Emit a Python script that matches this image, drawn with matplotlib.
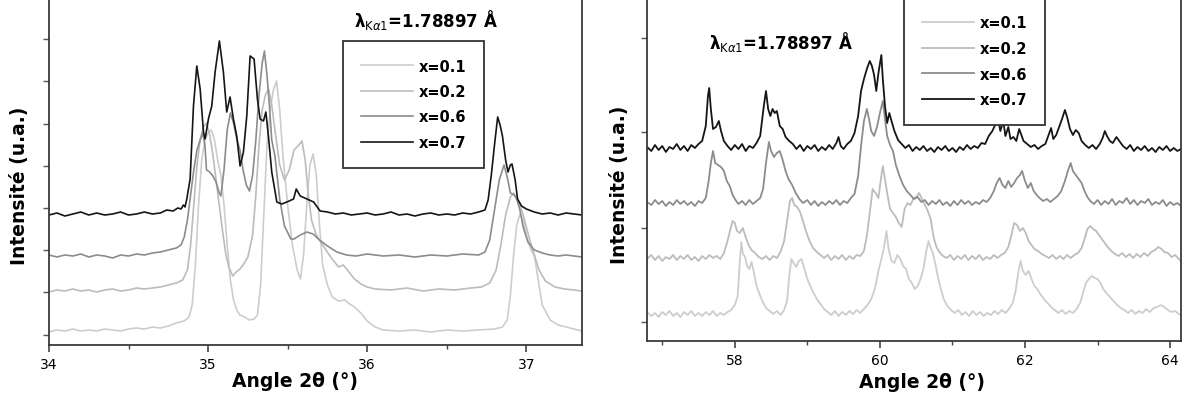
#%%
import numpy as np
import matplotlib.pyplot as plt

#%%
# values (angle in degrees, intensity in a.u. incl. stacking offset)
labels = ['x=0.1', 'x=0.2', 'x=0.6', 'x=0.7']
colors = ['#cdcdcd', '#bcbcbc', '#8c8c8c', '#151515']
lambda_text = r'λ$_{\mathrm{K}\alpha\mathrm{1}}$=1.78897 Å'

left_ticks_y = [10, 53, 95, 137, 179, 221, 264, 306]
right_ticks_y = [19, 113, 209, 303]

# left panel 34 - 37.35
l01_a = [34.00, 34.05, 34.10, 34.15, 34.20, 34.25, 34.30, 34.35, 34.40, 34.45, 34.50, 34.55, 34.60, 34.65, 34.70, 34.75, 34.80, 34.85, 34.88, 34.90, 34.92, 34.94, 34.96, 34.98, 35.00, 35.02, 35.04, 35.06, 35.08, 35.10, 35.12, 35.14, 35.16, 35.18, 35.20, 35.23, 35.26, 35.29, 35.31, 35.33, 35.35, 35.37, 35.39, 35.41, 35.43, 35.45, 35.47, 35.50, 35.53, 35.56, 35.58, 35.60, 35.62, 35.64, 35.66, 35.68, 35.70, 35.72, 35.75, 35.78, 35.82, 35.86, 35.88, 35.92, 35.96, 36.00, 36.05, 36.10, 36.20, 36.30, 36.40, 36.50, 36.60, 36.70, 36.80, 36.85, 36.88, 36.90, 36.92, 36.94, 36.96, 36.98, 37.00, 37.03, 37.05, 37.07, 37.10, 37.15, 37.20, 37.25, 37.30, 37.35]
l01_i = [13, 15, 14, 16, 14, 15, 14, 16, 15, 14, 16, 17, 16, 18, 17, 19, 22, 24, 28, 40, 80, 140, 185, 205, 212, 215, 205, 185, 170, 140, 100, 65, 45, 35, 30, 28, 25, 26, 30, 60, 130, 200, 235, 255, 264, 235, 190, 140, 100, 75, 66, 90, 140, 180, 191, 170, 120, 80, 60, 48, 44, 45, 42, 38, 32, 24, 18, 15, 14, 15, 13, 15, 14, 15, 16, 18, 25, 50, 90, 120, 131, 125, 110, 95, 90, 70, 40, 25, 20, 18, 16, 14]

l02_a = [34.00, 34.05, 34.10, 34.15, 34.20, 34.25, 34.30, 34.35, 34.40, 34.45, 34.50, 34.55, 34.60, 34.65, 34.70, 34.75, 34.80, 34.84, 34.87, 34.89, 34.91, 34.93, 34.95, 34.97, 34.99, 35.01, 35.03, 35.05, 35.07, 35.09, 35.11, 35.13, 35.155, 35.17, 35.20, 35.22, 35.25, 35.28, 35.30, 35.32, 35.34, 35.36, 35.38, 35.40, 35.42, 35.45, 35.48, 35.51, 35.54, 35.57, 35.59, 35.61, 35.63, 35.65, 35.68, 35.72, 35.77, 35.82, 35.85, 35.88, 35.92, 35.96, 36.00, 36.05, 36.15, 36.25, 36.35, 36.45, 36.55, 36.65, 36.72, 36.77, 36.81, 36.84, 36.87, 36.90, 36.92, 36.94, 36.96, 36.98, 37.01, 37.04, 37.08, 37.12, 37.18, 37.24, 37.30, 37.35]
l02_i = [53, 55, 54, 56, 54, 55, 53, 55, 56, 54, 55, 57, 56, 57, 58, 60, 62, 65, 75, 100, 140, 180, 205, 218, 222, 210, 190, 165, 140, 115, 92, 78, 69, 72, 76, 80, 88, 110, 150, 200, 235, 250, 256, 240, 215, 180, 165, 175, 195, 200, 204, 185, 150, 125, 110, 100, 88, 78, 80, 74, 66, 61, 58, 56, 55, 57, 54, 56, 55, 57, 58, 62, 75, 100, 130, 148, 152, 146, 140, 130, 112, 95, 75, 64, 58, 56, 55, 54]

l06_a = [34.00, 34.05, 34.10, 34.15, 34.20, 34.25, 34.30, 34.35, 34.40, 34.45, 34.50, 34.55, 34.60, 34.65, 34.70, 34.75, 34.80, 34.83, 34.85, 34.87, 34.89, 34.91, 34.93, 34.95, 34.965, 34.98, 34.99, 35.01, 35.03, 35.05, 35.07, 35.08, 35.10, 35.12, 35.14, 35.16, 35.18, 35.20, 35.22, 35.24, 35.26, 35.28, 35.30, 35.32, 35.34, 35.354, 35.37, 35.385, 35.40, 35.42, 35.45, 35.48, 35.52, 35.54, 35.58, 35.62, 35.66, 35.70, 35.75, 35.81, 35.87, 35.93, 36.00, 36.10, 36.20, 36.30, 36.40, 36.50, 36.60, 36.70, 36.74, 36.77, 36.80, 36.83, 36.86, 36.88, 36.90, 36.925, 36.94, 36.96, 36.98, 37.01, 37.05, 37.10, 37.15, 37.20, 37.25, 37.30, 37.35]
l06_i = [90, 88, 90, 89, 91, 88, 90, 89, 87, 90, 89, 91, 90, 92, 93, 95, 97, 100, 108, 125, 150, 175, 195, 205, 212, 200, 175, 173, 169, 163, 152, 149, 175, 215, 232, 222, 206, 195, 175, 160, 154, 170, 205, 250, 282, 294, 270, 240, 205, 189, 146, 119, 106, 106, 110, 113, 111, 105, 99, 93, 90, 89, 91, 89, 90, 88, 90, 89, 91, 90, 93, 105, 135, 165, 180, 168, 152, 150, 146, 135, 118, 103, 95, 92, 90, 89, 90, 89, 88]

l07_a = [34.00, 34.05, 34.10, 34.15, 34.20, 34.25, 34.30, 34.35, 34.40, 34.45, 34.50, 34.55, 34.60, 34.65, 34.70, 34.74, 34.78, 34.81, 34.83, 34.845, 34.855, 34.866, 34.887, 34.908, 34.929, 34.950, 34.971, 34.981, 35.002, 35.023, 35.044, 35.071, 35.096, 35.117, 35.138, 35.159, 35.180, 35.201, 35.222, 35.243, 35.264, 35.289, 35.310, 35.327, 35.348, 35.363, 35.379, 35.400, 35.432, 35.463, 35.495, 35.537, 35.554, 35.579, 35.621, 35.663, 35.704, 35.75, 35.80, 35.85, 35.90, 35.95, 36.00, 36.05, 36.10, 36.15, 36.20, 36.25, 36.30, 36.35, 36.40, 36.45, 36.50, 36.55, 36.60, 36.65, 36.70, 36.74, 36.76, 36.78, 36.80, 36.82, 36.835, 36.85, 36.87, 36.885, 36.90, 36.91, 36.93, 36.945, 36.97, 37.00, 37.05, 37.10, 37.15, 37.20, 37.25, 37.30, 37.35]
l07_i = [130, 132, 129, 131, 133, 130, 132, 130, 131, 133, 130, 131, 133, 131, 132, 135, 134, 137, 136, 140, 138, 146, 166, 239, 279, 256, 213, 206, 226, 239, 273, 304, 273, 233, 248, 226, 209, 179, 193, 229, 289, 286, 246, 226, 224, 233, 209, 173, 143, 141, 143, 146, 156, 149, 146, 143, 134, 133, 131, 132, 130, 131, 132, 130, 131, 133, 130, 131, 129, 131, 132, 130, 131, 130, 132, 131, 133, 135, 145, 170, 200, 228, 220, 209, 185, 173, 180, 181, 165, 146, 139, 136, 133, 131, 132, 130, 132, 131, 130]

# right panel 56.8 - 64.15
r07_a = [56.79, 56.85, 56.90, 56.95, 57.00, 57.05, 57.10, 57.15, 57.20, 57.25, 57.30, 57.35, 57.40, 57.45, 57.50, 57.55, 57.60, 57.63, 57.647, 57.67, 57.70, 57.74, 57.78, 57.81, 57.85, 57.90, 57.95, 58.00, 58.05, 58.10, 58.15, 58.20, 58.25, 58.30, 58.35, 58.40, 58.43, 58.46, 58.49, 58.52, 58.55, 58.58, 58.62, 58.66, 58.70, 58.75, 58.80, 58.85, 58.90, 58.95, 59.00, 59.05, 59.10, 59.15, 59.20, 59.25, 59.30, 59.35, 59.40, 59.43, 59.46, 59.50, 59.55, 59.60, 59.65, 59.70, 59.74, 59.78, 59.82, 59.86, 59.89, 59.92, 59.95, 59.98, 60.02, 60.04, 60.07, 60.10, 60.13, 60.16, 60.20, 60.25, 60.30, 60.35, 60.40, 60.45, 60.50, 60.55, 60.60, 60.65, 60.70, 60.75, 60.80, 60.85, 60.90, 60.95, 61.00, 61.05, 61.10, 61.15, 61.20, 61.25, 61.30, 61.35, 61.40, 61.45, 61.50, 61.55, 61.60, 61.63, 61.66, 61.70, 61.73, 61.77, 61.80, 61.84, 61.88, 61.92, 61.95, 61.98, 62.03, 62.08, 62.13, 62.18, 62.23, 62.28, 62.32, 62.36, 62.39, 62.43, 62.47, 62.51, 62.55, 62.58, 62.62, 62.66, 62.70, 62.74, 62.78, 62.83, 62.88, 62.93, 62.98, 63.03, 63.07, 63.10, 63.13, 63.17, 63.21, 63.26, 63.30, 63.35, 63.40, 63.45, 63.50, 63.55, 63.60, 63.65, 63.70, 63.75, 63.80, 63.85, 63.90, 63.95, 64.00, 64.05, 64.10, 64.15]
r07_i = [194, 190, 196, 191, 195, 189, 194, 192, 197, 191, 195, 190, 196, 193, 197, 200, 215, 245, 253, 232, 212, 214, 220, 210, 200, 195, 191, 196, 192, 197, 190, 195, 193, 198, 205, 235, 250, 232, 225, 232, 228, 230, 215, 212, 204, 200, 197, 192, 196, 190, 195, 192, 196, 190, 194, 191, 196, 192, 198, 204, 195, 192, 197, 200, 208, 225, 250, 262, 272, 280, 275, 266, 250, 268, 286, 262, 235, 218, 228, 220, 210, 201, 197, 193, 196, 190, 194, 191, 195, 190, 193, 189, 194, 191, 195, 190, 193, 189, 194, 191, 196, 192, 195, 193, 198, 197, 205, 210, 218, 222, 210, 220, 205, 214, 202, 204, 200, 212, 206, 200, 197, 194, 196, 192, 195, 197, 205, 213, 202, 206, 214, 222, 231, 224, 212, 206, 211, 208, 200, 196, 193, 196, 192, 197, 203, 210, 205, 200, 198, 204, 200, 195, 192, 196, 190, 194, 191, 195, 190, 193, 189, 194, 191, 195, 190, 193, 190, 192]

r06_a = [56.79, 56.85, 56.90, 56.95, 57.00, 57.05, 57.10, 57.15, 57.20, 57.25, 57.30, 57.35, 57.40, 57.45, 57.50, 57.55, 57.60, 57.64, 57.67, 57.70, 57.73, 57.77, 57.81, 57.85, 57.89, 57.93, 57.97, 58.01, 58.05, 58.10, 58.15, 58.20, 58.25, 58.30, 58.35, 58.39, 58.43, 58.47, 58.50, 58.54, 58.58, 58.62, 58.66, 58.70, 58.74, 58.79, 58.84, 58.89, 58.94, 59.00, 59.05, 59.10, 59.15, 59.20, 59.25, 59.30, 59.35, 59.40, 59.45, 59.50, 59.55, 59.60, 59.65, 59.70, 59.74, 59.78, 59.82, 59.85, 59.88, 59.92, 59.96, 60.00, 60.04, 60.07, 60.10, 60.14, 60.18, 60.22, 60.27, 60.32, 60.37, 60.42, 60.47, 60.52, 60.57, 60.62, 60.67, 60.72, 60.77, 60.82, 60.87, 60.92, 60.97, 61.02, 61.07, 61.12, 61.17, 61.22, 61.27, 61.32, 61.37, 61.42, 61.47, 61.52, 61.57, 61.61, 61.65, 61.69, 61.73, 61.77, 61.81, 61.85, 61.89, 61.93, 61.96, 62.00, 62.04, 62.08, 62.12, 62.16, 62.20, 62.25, 62.30, 62.35, 62.40, 62.45, 62.50, 62.55, 62.59, 62.63, 62.66, 62.70, 62.74, 62.78, 62.82, 62.86, 62.90, 62.95, 63.00, 63.05, 63.10, 63.15, 63.20, 63.25, 63.30, 63.35, 63.40, 63.45, 63.50, 63.55, 63.60, 63.65, 63.70, 63.75, 63.80, 63.85, 63.90, 63.95, 64.00, 64.05, 64.10, 64.15]
r06_i = [139, 136, 141, 137, 140, 135, 139, 136, 141, 137, 140, 136, 139, 135, 140, 138, 143, 160, 178, 190, 178, 176, 174, 170, 160, 155, 146, 141, 137, 140, 136, 141, 137, 140, 143, 152, 178, 199, 190, 184, 188, 190, 181, 170, 162, 156, 148, 142, 138, 141, 136, 140, 135, 139, 136, 140, 137, 141, 136, 140, 138, 143, 147, 165, 195, 220, 232, 222, 210, 205, 214, 228, 240, 222, 205, 196, 190, 176, 165, 156, 150, 146, 142, 144, 139, 141, 136, 140, 137, 141, 136, 139, 135, 140, 136, 141, 137, 140, 136, 139, 137, 141, 139, 143, 150, 158, 163, 156, 153, 160, 154, 158, 163, 166, 170, 160, 153, 158, 150, 146, 143, 140, 142, 139, 142, 145, 150, 160, 170, 178, 170, 166, 162, 158, 150, 144, 140, 137, 141, 136, 140, 137, 142, 136, 140, 138, 143, 137, 141, 136, 140, 138, 142, 136, 139, 137, 141, 135, 139, 136, 138, 135]

r02_a = [56.79, 56.85, 56.90, 56.95, 57.00, 57.05, 57.10, 57.15, 57.20, 57.25, 57.30, 57.35, 57.40, 57.45, 57.50, 57.55, 57.60, 57.65, 57.70, 57.75, 57.80, 57.85, 57.90, 57.94, 57.97, 58.00, 58.03, 58.07, 58.11, 58.15, 58.19, 58.23, 58.28, 58.33, 58.38, 58.43, 58.48, 58.53, 58.58, 58.63, 58.68, 58.72, 58.76, 58.79, 58.82, 58.86, 58.90, 58.94, 58.98, 59.03, 59.08, 59.13, 59.18, 59.23, 59.28, 59.33, 59.38, 59.43, 59.48, 59.53, 59.58, 59.63, 59.68, 59.73, 59.78, 59.82, 59.86, 59.90, 59.94, 59.98, 60.01, 60.04, 60.07, 60.10, 60.14, 60.18, 60.22, 60.26, 60.30, 60.34, 60.38, 60.42, 60.46, 60.50, 60.54, 60.58, 60.62, 60.66, 60.70, 60.74, 60.78, 60.82, 60.87, 60.92, 60.97, 61.02, 61.07, 61.12, 61.17, 61.22, 61.27, 61.32, 61.37, 61.42, 61.47, 61.52, 61.57, 61.62, 61.67, 61.72, 61.77, 61.81, 61.85, 61.89, 61.93, 61.97, 62.01, 62.05, 62.09, 62.13, 62.18, 62.23, 62.28, 62.33, 62.38, 62.43, 62.48, 62.53, 62.58, 62.63, 62.68, 62.73, 62.78, 62.82, 62.86, 62.90, 62.94, 62.98, 63.02, 63.06, 63.10, 63.14, 63.19, 63.24, 63.29, 63.34, 63.39, 63.44, 63.49, 63.54, 63.59, 63.64, 63.69, 63.74, 63.79, 63.84, 63.88, 63.92, 63.97, 64.02, 64.07, 64.12, 64.15]
r02_i = [82, 86, 81, 85, 80, 84, 82, 86, 81, 85, 82, 86, 81, 84, 80, 85, 82, 86, 83, 85, 82, 88, 100, 112, 120, 118, 110, 108, 113, 104, 96, 91, 88, 84, 82, 85, 81, 85, 83, 89, 100, 120, 140, 143, 136, 134, 129, 120, 110, 100, 93, 89, 86, 83, 86, 81, 85, 82, 86, 81, 85, 82, 86, 85, 90, 105, 128, 152, 148, 143, 160, 175, 162, 148, 132, 128, 124, 118, 114, 132, 138, 136, 142, 144, 148, 142, 136, 130, 122, 104, 94, 89, 85, 83, 86, 81, 85, 82, 86, 81, 85, 82, 86, 81, 84, 82, 86, 83, 86, 88, 94, 105, 118, 116, 110, 113, 108, 100, 96, 92, 90, 87, 85, 83, 86, 82, 85, 82, 86, 83, 86, 88, 93, 102, 112, 115, 112, 110, 106, 102, 98, 94, 90, 87, 85, 88, 84, 87, 83, 87, 84, 88, 85, 89, 91, 94, 92, 89, 88, 84, 86, 82, 80]

r01_a = [56.79, 56.85, 56.90, 56.95, 57.00, 57.05, 57.10, 57.15, 57.20, 57.25, 57.30, 57.35, 57.40, 57.45, 57.50, 57.55, 57.60, 57.65, 57.70, 57.75, 57.80, 57.85, 57.90, 57.95, 58.00, 58.04, 58.07, 58.09, 58.11, 58.14, 58.17, 58.20, 58.23, 58.26, 58.30, 58.34, 58.38, 58.43, 58.48, 58.53, 58.58, 58.63, 58.68, 58.72, 58.75, 58.78, 58.81, 58.85, 58.88, 58.92, 58.96, 59.00, 59.04, 59.08, 59.13, 59.18, 59.23, 59.28, 59.33, 59.38, 59.43, 59.48, 59.53, 59.58, 59.63, 59.68, 59.73, 59.78, 59.83, 59.88, 59.93, 59.98, 60.02, 60.06, 60.09, 60.12, 60.16, 60.20, 60.24, 60.28, 60.32, 60.36, 60.40, 60.44, 60.48, 60.52, 60.56, 60.60, 60.64, 60.67, 60.70, 60.73, 60.77, 60.80, 60.84, 60.88, 60.93, 60.98, 61.03, 61.08, 61.13, 61.18, 61.23, 61.28, 61.33, 61.38, 61.43, 61.48, 61.53, 61.58, 61.63, 61.68, 61.73, 61.78, 61.83, 61.87, 61.91, 61.94, 61.97, 62.01, 62.05, 62.09, 62.13, 62.17, 62.21, 62.26, 62.31, 62.36, 62.41, 62.46, 62.51, 62.56, 62.61, 62.66, 62.71, 62.76, 62.80, 62.84, 62.88, 62.92, 62.96, 63.00, 63.04, 63.08, 63.12, 63.17, 63.22, 63.27, 63.32, 63.37, 63.42, 63.47, 63.52, 63.57, 63.62, 63.67, 63.72, 63.77, 63.82, 63.87, 63.92, 63.97, 64.02, 64.07, 64.12, 64.15]
r01_i = [29, 25, 28, 24, 29, 26, 30, 25, 28, 24, 29, 26, 30, 25, 28, 25, 29, 26, 30, 25, 28, 26, 29, 31, 36, 45, 80, 99, 88, 84, 75, 72, 79, 70, 55, 47, 40, 33, 30, 27, 30, 26, 31, 40, 65, 82, 78, 74, 80, 82, 72, 62, 55, 49, 42, 37, 32, 29, 26, 30, 25, 29, 26, 30, 27, 31, 28, 32, 36, 42, 52, 70, 82, 95, 110, 92, 80, 78, 86, 82, 75, 72, 62, 58, 52, 55, 62, 72, 90, 100, 93, 88, 75, 64, 52, 42, 35, 31, 28, 31, 26, 29, 25, 30, 26, 29, 25, 28, 26, 30, 27, 31, 28, 32, 38, 50, 70, 80, 70, 66, 70, 62, 55, 52, 47, 42, 38, 34, 31, 28, 31, 27, 30, 28, 32, 38, 48, 58, 62, 65, 63, 62, 58, 52, 48, 44, 40, 36, 33, 31, 28, 31, 27, 30, 28, 32, 29, 33, 34, 36, 34, 31, 29, 30, 27, 26]

#%%
plt.rcParams['font.family'] = 'DejaVu Sans'
W, H = 1191, 402
fig = plt.figure(figsize=(W/100, H/100), dpi=100)

def px_axes(x0, x1, y_bottom, top_data):
  # axes placed in pixel coords, 1 data unit = 1 px vertically, top runs off the figure
  return fig.add_axes([x0/W, (H-y_bottom)/H, (x1-x0)/W, top_data/H])

def style(ax, yticks):
  for s in ax.spines.values():
    s.set_color('#3a3a3a')
    s.set_linewidth(1.3)
  ax.set_yticks(yticks)
  ax.set_yticklabels([])
  ax.tick_params(axis='y', direction='out', length=4, width=1, color='#555')
  ax.tick_params(axis='x', which='major', direction='out', length=5, width=1.2, color='#444', labelsize=10, pad=4)
  ax.tick_params(axis='x', which='minor', direction='out', length=3, width=1, color='#444')
  ax.set_xlabel('Angle 2θ (°)', fontsize=13.5, fontweight='bold')
  ax.set_ylabel('Intensité (u.a.)', fontsize=13.5, fontweight='bold')
  ax.xaxis.label.set_va('center')
  ax.yaxis.label.set_va('center')

def add_legend(ax, x0, y0):
  leg = ax.legend(loc='upper left', bbox_to_anchor=(x0/W, 1-y0/H), bbox_transform=fig.transFigure,
    prop=dict(size=10.5, weight='bold'), handlelength=3.6, handletextpad=0.4, borderpad=1.2,
    labelspacing=0.72, borderaxespad=0, fancybox=False, framealpha=1, edgecolor='#333')
  leg.get_frame().set_linewidth(1.3)

#%%
ax1 = px_axes(49, 582, 346, 360)
left = [(l01_a, l01_i), (l02_a, l02_i), (l06_a, l06_i), (l07_a, l07_i)]
for (a, i), c, lab in zip(left, colors, labels):
  ax1.plot(a, i, color=c, lw=1.2, label=lab)
ax1.set_xlim(34.0, 37.35)
ax1.set_ylim(0, 360)
ax1.set_xticks([34, 35, 36, 37])
ax1.set_xticks([34.5, 35.5, 36.5], minor=True)
style(ax1, left_ticks_y)
ax1.xaxis.set_label_coords((295-49)/533, (346-382)/360)
ax1.yaxis.set_label_coords((20-49)/533, (346-186)/360)
add_legend(ax1, 343, 42)
fig.text(426/W, 1-20/H, lambda_text, ha='center', va='center', fontsize=12, fontweight='bold')

#%%
ax2 = px_axes(647, 1181, 342, 356)
right = [(r01_a, r01_i), (r02_a, r02_i), (r06_a, r06_i), (r07_a, r07_i)]
for (a, i), c, lab in zip(right, colors, labels):
  ax2.plot(a, i, color=c, lw=1.3, label=lab)
ax2.set_xlim(56.79, 64.15)
ax2.set_ylim(0, 356)
ax2.set_xticks([58, 60, 62, 64])
ax2.set_xticks([57, 59, 61, 63], minor=True)
style(ax2, right_ticks_y)
ax2.xaxis.set_label_coords((922-647)/534, (342-383)/356)
ax2.yaxis.set_label_coords((620-647)/534, (342-185)/356)
add_legend(ax2, 904, -1)
fig.text(781/W, 1-42/H, lambda_text, ha='center', va='center', fontsize=12, fontweight='bold')

fig.savefig('out.png', dpi=100)
